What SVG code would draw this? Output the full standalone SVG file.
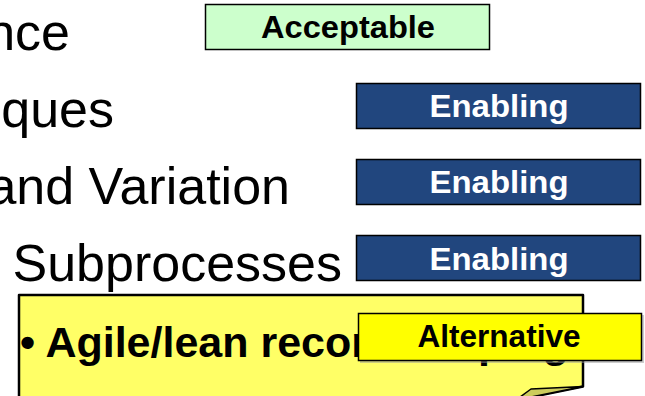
<svg xmlns="http://www.w3.org/2000/svg" width="645" height="396" viewBox="0 0 645 396">
  <style>
    .body { font-family: "Liberation Sans", Arial, sans-serif; font-size: 52px; fill: #000; }
    .tag { stroke: #000; stroke-width: 1.5; }
    .tagtext { font-family: "Liberation Sans", Arial, sans-serif; font-weight: bold; font-size: 31px; text-anchor: middle; }
    .enabling rect { fill: #21467e; }
    .enabling text { fill: #fff; }
  </style>
  <rect width="645" height="396" fill="#fff"/>

  <!-- slide body lines, clipped at the left edge -->
  <g id="lines" class="body" text-anchor="end">
    <text x="70" y="50">nce</text>
    <text x="114" y="127">ques</text>
    <text x="290" y="204">and Variation</text>
    <text x="342" y="281">Subprocesses</text>
  </g>

  <!-- rating tags -->
  <g id="tag-acceptable">
    <rect class="tag" x="205.5" y="4.5" width="284" height="45" fill="#ccffcc"/>
    <text class="tagtext" x="348" y="38" textLength="174" lengthAdjust="spacingAndGlyphs">Acceptable</text>
  </g>
  <g id="tag-enabling-1" class="enabling">
    <rect class="tag" x="356.5" y="83.5" width="284" height="45"/>
    <text class="tagtext" x="499" y="117" textLength="139" lengthAdjust="spacingAndGlyphs">Enabling</text>
  </g>
  <g id="tag-enabling-2" class="enabling">
    <rect class="tag" x="356.5" y="159.5" width="284" height="45"/>
    <text class="tagtext" x="499" y="193" textLength="139" lengthAdjust="spacingAndGlyphs">Enabling</text>
  </g>
  <g id="tag-enabling-3" class="enabling">
    <rect class="tag" x="356.5" y="235.5" width="284" height="45"/>
    <text class="tagtext" x="499" y="270" textLength="139" lengthAdjust="spacingAndGlyphs">Enabling</text>
  </g>

  <!-- sticky note with curled corner -->
  <g id="note">
    <path d="M19,295 H583 V386.5 L517,400 H19 Z" fill="#ffff66" stroke="#000" stroke-width="2.5" stroke-linejoin="round"/>
    <path d="M583,386.5 L531,389 L516,400 Z" fill="#cccc5c" stroke="#000" stroke-width="1.5" stroke-linejoin="round"/>
    <text x="20" y="357" font-family="'Liberation Sans', Arial, sans-serif" font-weight="bold" font-size="43" fill="#000">• Agile/lean record keeping</text>
  </g>

  <g id="tag-alternative">
    <rect x="360" y="315" width="284" height="48" fill="#999" opacity="0.5"/>
    <rect class="tag" x="358.5" y="313.5" width="283" height="47" fill="#ffff00"/>
    <text class="tagtext" x="499" y="347" font-size="33" textLength="163" lengthAdjust="spacingAndGlyphs">Alternative</text>
  </g>
</svg>
